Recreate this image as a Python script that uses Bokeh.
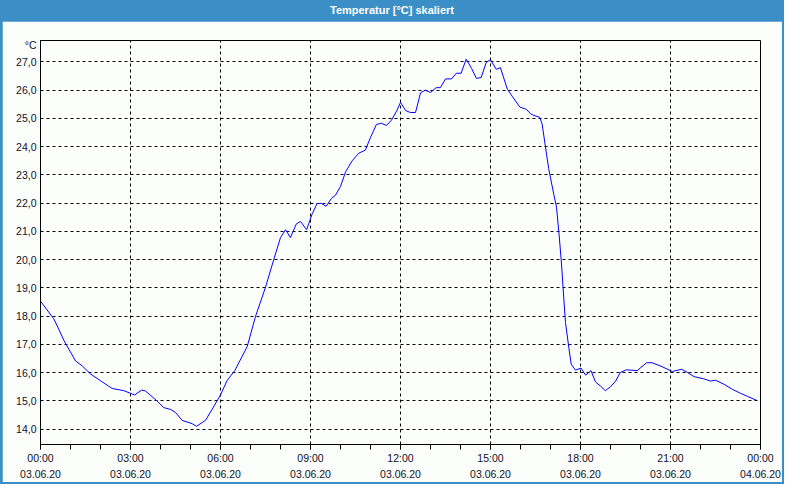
from bokeh.plotting import figure
from bokeh.models import Div, FixedTicker, LinearAxis, Range1d
from bokeh.layouts import column
from bokeh.embed import file_html
from bokeh.resources import INLINE

# ---- data (hours since 03.06.20 00:00, temperature in °C) ----
hours = [0.00, 0.44, 0.56, 0.78, 1.17, 1.39, 1.67, 2.06, 2.39, 2.78, 3.14, 3.37, 3.50,
         3.89, 4.11, 4.33, 4.50, 4.72, 5.06, 5.20, 5.50, 5.72, 6.00, 6.22, 6.48, 6.89,
         7.17, 7.50, 7.78, 8.00, 8.17, 8.33, 8.53, 8.67, 8.87, 9.06, 9.22, 9.36, 9.52,
         9.70, 9.83, 10.00, 10.17, 10.39, 10.61, 10.83, 11.00, 11.20, 11.36, 11.53, 11.70,
         11.87, 12.00, 12.17, 12.33, 12.50, 12.67, 12.83, 13.00, 13.19, 13.33, 13.50, 13.70,
         13.86, 14.02, 14.19, 14.37, 14.53, 14.69, 14.86, 15.00, 15.19, 15.33, 15.56, 15.72,
         15.98, 16.20, 16.33, 16.44, 16.64, 16.72, 16.83, 16.94, 17.11, 17.20, 17.29, 17.37,
         17.44, 17.50, 17.61, 17.69, 17.83, 18.02, 18.17, 18.35, 18.50, 18.67, 18.83, 19.00,
         19.17, 19.33, 19.53, 19.89, 20.20, 20.39, 20.72, 21.06, 21.37, 21.56, 21.78, 22.11,
         22.33, 22.50, 22.78, 23.06, 23.33, 23.56, 23.87]
temps = [18.53, 17.91, 17.65, 17.14, 16.41, 16.24, 15.95, 15.67, 15.44, 15.36, 15.21, 15.38, 15.35,
         14.99, 14.76, 14.70, 14.59, 14.31, 14.19, 14.10, 14.31, 14.70, 15.21, 15.72, 16.08, 16.92,
         18.00, 19.02, 20.02, 20.78, 21.06, 20.78, 21.27, 21.35, 21.06, 21.63, 21.99, 21.99, 21.89,
         22.17, 22.28, 22.59, 23.11, 23.50, 23.77, 23.88, 24.33, 24.79, 24.83, 24.75, 24.94,
         25.26, 25.57, 25.28, 25.21, 25.21, 25.91, 26.00, 25.92, 26.09, 26.09, 26.40, 26.40,
         26.60, 26.60, 27.10, 26.77, 26.42, 26.45, 26.99, 27.08, 26.74, 26.80, 26.04, 25.79,
         25.40, 25.32, 25.17, 25.11, 25.04, 24.81, 24.01, 23.22, 22.31, 21.86, 20.84, 19.81,
         18.68, 17.77, 16.89, 16.30, 16.09, 16.16, 15.91, 16.07, 15.67, 15.52, 15.36, 15.50,
         15.70, 16.01, 16.10, 16.07, 16.35, 16.35, 16.21, 16.04, 16.12, 16.01, 15.86, 15.78,
         15.70, 15.73, 15.59, 15.41, 15.27, 15.16, 15.02]

x_ticks = [0, 3, 6, 9, 12, 15, 18, 21, 24]
x_minor = list(range(0, 25))
time_labels = ["00:00", "03:00", "06:00", "09:00", "12:00", "15:00", "18:00", "21:00", "00:00"]
date_labels = ["03.06.20"] * 8 + ["04.06.20"]
y_ticks = list(range(14, 28))
y_labels = [f"{t},0" for t in y_ticks]

title_text = "Temperatur [°C] skaliert"
unit_text = "°C"
unit_pos = 27.6   # unit label sits just above the top tick, at the top of the axis

FONT = "Liberation Sans"
TXT = "#101028"
BG = "#fcfefc"
BLUE = "#3c8fc6"

p = figure(width=780, height=461,
           x_range=Range1d(0, 24), y_range=Range1d(13.455, 27.76),
           output_backend="svg", toolbar_location=None,
           min_border_left=38, min_border_right=22, min_border_top=19, min_border_bottom=38,
           background_fill_color=BG, border_fill_color=BG)
p.margin = (0, 2, 2, 2)
p.outline_line_color = "black"
p.outline_line_alpha = 1.0
p.outline_line_width = 1

# x axis (times)
xa = p.xaxis[0]
xa.ticker = FixedTicker(ticks=x_ticks, minor_ticks=x_minor)
xa.major_label_overrides = {float(t): l for t, l in zip(x_ticks, time_labels)}
xa.axis_line_color = "black"
xa.major_tick_line_color = "black"
xa.minor_tick_line_color = "black"
xa.major_tick_in = 0
xa.major_tick_out = 5
xa.minor_tick_in = 0
xa.minor_tick_out = 5
xa.major_label_standoff = 2
xa.major_label_text_font = FONT
xa.major_label_text_font_size = "10.5px"
xa.major_label_text_color = TXT

# second x axis (dates)
da = LinearAxis(ticker=FixedTicker(ticks=x_ticks, minor_ticks=[]),
                major_label_overrides={float(t): l for t, l in zip(x_ticks, date_labels)})
da.axis_line_color = None
da.major_tick_line_color = None
da.minor_tick_line_color = None
da.major_tick_in = 0
da.major_tick_out = 0
da.major_label_standoff = 3
da.major_label_text_font = FONT
da.major_label_text_font_size = "10.5px"
da.major_label_text_color = TXT
p.add_layout(da, "below")

# y axis (tick labels plus the unit at the top)
ya = p.yaxis[0]
ya.ticker = FixedTicker(ticks=y_ticks + [unit_pos], minor_ticks=[])
overrides = {float(t): l for t, l in zip(y_ticks, y_labels)}
overrides[float(unit_pos)] = unit_text
ya.major_label_overrides = overrides
ya.axis_line_color = "black"
ya.major_tick_line_color = None
ya.minor_tick_line_color = None
ya.major_tick_in = 0
ya.major_tick_out = 0
ya.major_label_standoff = 4
ya.major_label_text_font = FONT
ya.major_label_text_font_size = "10.5px"
ya.major_label_text_color = TXT

# grids
p.xgrid.ticker = FixedTicker(ticks=x_ticks)
p.ygrid.ticker = FixedTicker(ticks=y_ticks)
for g in (p.xgrid[0], p.ygrid[0]):
    g.grid_line_color = "black"
    g.grid_line_dash = "3 3"
    g.grid_line_width = 1
    g.grid_line_alpha = 1.0

p.line(hours, temps, line_color="#0000ff", line_width=1)

div = Div(text=title_text, width=784, height=21, margin=0,
          styles={"background-color": BLUE, "color": "white", "font-weight": "bold",
                  "text-align": "center", "font-family": FONT, "font-size": "11px",
                  "line-height": "21px"})

layout = column(div, p, spacing=0, styles={"background-color": BLUE})

open("out.html", "w").write(file_html(layout, INLINE))
